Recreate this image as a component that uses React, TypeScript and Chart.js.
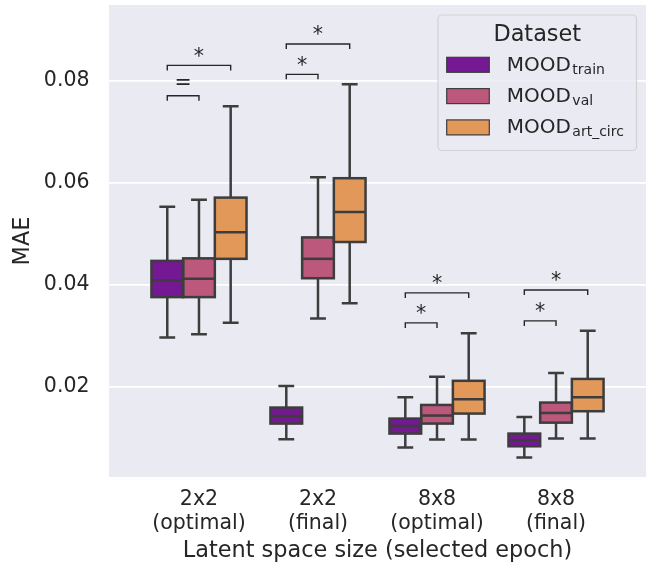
import React, { useEffect, useRef } from 'react';
import { Chart, registerables } from 'chart.js';

Chart.register(...registerables);

// ---------- data ----------
const categories: string[][] = [
  ['2x2', '(optimal)'],
  ['2x2', '(final)'],
  ['8x8', '(optimal)'],
  ['8x8', '(final)'],
];
const yTickValues = [0.02, 0.04, 0.06, 0.08];

const seriesBase = 'MOOD';
const seriesSubs = ['train', 'val', 'art_circ'];
const seriesColors = ['#741893', '#bb587c', '#e19858'];

// MOOD_train
const trainLow = [0.0297, 0.00975, 0.00812, 0.00616];
const trainQ1 = [0.0376, 0.01282, 0.01086, 0.00837];
const trainMedian = [0.0409, 0.01431, 0.01235, 0.00955];
const trainQ3 = [0.0447, 0.01596, 0.0138, 0.01086];
const trainHigh = [0.0553, 0.0202, 0.018, 0.01412];

// MOOD_val
const valLow = [0.0303, 0.0334, 0.00968, 0.00988];
const valQ1 = [0.0376, 0.0413, 0.01282, 0.013];
const valMedian = [0.0412, 0.0451, 0.01439, 0.0149];
const valQ3 = [0.0452, 0.0493, 0.01647, 0.01694];
const valHigh = [0.0567, 0.0611, 0.022, 0.02275];

// MOOD_art_circ
const artLow = [0.0326, 0.0364, 0.00968, 0.00988];
const artQ1 = [0.0451, 0.0484, 0.01478, 0.01524];
const artMedian = [0.0503, 0.0543, 0.01759, 0.018];
const artQ3 = [0.0571, 0.0609, 0.0212, 0.02157];
const artHigh = [0.075, 0.0793, 0.0305, 0.031];

// significance annotations
const annotCategory = [0, 0, 1, 1, 2, 2, 3, 3];
const annotFrom = [0, 0, 0, 0, 0, 0, 0, 0];
const annotTo = [1, 2, 1, 2, 1, 2, 1, 2];
const annotLevel = [0.07706, 0.083, 0.08125, 0.0872, 0.03255, 0.03843, 0.03294, 0.039];
const annotText = ['=', '*', '*', '*', '*', '*', '*', '*'];

const stats = [
  { low: trainLow, q1: trainQ1, med: trainMedian, q3: trainQ3, high: trainHigh },
  { low: valLow, q1: valQ1, med: valMedian, q3: valQ3, high: valHigh },
  { low: artLow, q1: artQ1, med: artMedian, q3: artQ3, high: artHigh },
];

const FONT = 'DejaVu Sans';
const TEXT = '#262626';
const LINE = '#3d3d3d';
const BG = '#eaeaf2';

const bgPlugin = {
  id: 'bgPlugin',
  beforeDraw(chart: any) {
    const { ctx, chartArea } = chart;
    ctx.save();
    ctx.fillStyle = BG;
    ctx.fillRect(chartArea.left, chartArea.top, chartArea.right - chartArea.left, chartArea.bottom - chartArea.top);
    ctx.restore();
  },
};

const boxPlugin = {
  id: 'boxPlugin',
  afterDatasetsDraw(chart: any) {
    const { ctx } = chart;
    const ys = chart.scales.y;
    ctx.save();
    ctx.strokeStyle = LINE;
    ctx.lineWidth = 2.5;
    ctx.lineCap = 'butt';
    chart.data.datasets.forEach((_: any, di: number) => {
      const meta = chart.getDatasetMeta(di);
      const st = stats[di];
      meta.data.forEach((el: any, i: number) => {
        const { x, width } = el.getProps(['x', 'width'], true);
        const pLow = ys.getPixelForValue(st.low[i]);
        const pQ1 = ys.getPixelForValue(st.q1[i]);
        const pMed = ys.getPixelForValue(st.med[i]);
        const pQ3 = ys.getPixelForValue(st.q3[i]);
        const pHigh = ys.getPixelForValue(st.high[i]);
        const half = width / 2;
        const cap = width / 4;
        ctx.beginPath();
        ctx.moveTo(x, pQ1);
        ctx.lineTo(x, pLow);
        ctx.moveTo(x, pQ3);
        ctx.lineTo(x, pHigh);
        ctx.moveTo(x - cap, pLow);
        ctx.lineTo(x + cap, pLow);
        ctx.moveTo(x - cap, pHigh);
        ctx.lineTo(x + cap, pHigh);
        ctx.stroke();
        ctx.strokeRect(x - half, pQ3, width, pQ1 - pQ3);
        ctx.beginPath();
        ctx.moveTo(x - half, pMed);
        ctx.lineTo(x + half, pMed);
        ctx.stroke();
      });
    });
    ctx.restore();

    // significance brackets
    ctx.save();
    ctx.strokeStyle = TEXT;
    ctx.fillStyle = TEXT;
    ctx.lineWidth = 1.4;
    ctx.font = `20.5px "${FONT}"`;
    ctx.textAlign = 'center';
    ctx.textBaseline = 'alphabetic';
    annotCategory.forEach((c, k) => {
      const e1 = chart.getDatasetMeta(annotFrom[k]).data[c];
      const e2 = chart.getDatasetMeta(annotTo[k]).data[c];
      const x1 = e1.x;
      const x2 = e2.x;
      const yb = ys.getPixelForValue(annotLevel[k]);
      ctx.beginPath();
      ctx.moveTo(x1, yb + 5);
      ctx.lineTo(x1, yb);
      ctx.lineTo(x2, yb);
      ctx.lineTo(x2, yb + 5);
      ctx.stroke();
      const m = ctx.measureText(annotText[k]);
      const target = yb - 13.5;
      const base = target - (m.actualBoundingBoxDescent - m.actualBoundingBoxAscent) / 2;
      ctx.fillText(annotText[k], (x1 + x2) / 2, base);
    });
    ctx.restore();
  },
};

const legendPlugin = {
  id: 'customLegend',
  afterDraw(chart: any) {
    const { ctx, chartArea } = chart;
    const boxRight = chartArea.right - 9.5;
    const boxW = 198.5;
    const boxL = boxRight - boxW;
    const boxT = chartArea.top + 10;
    const boxH = 135.5;
    ctx.save();
    ctx.beginPath();
    const r = 4;
    ctx.moveTo(boxL + r, boxT);
    ctx.lineTo(boxL + boxW - r, boxT);
    ctx.arcTo(boxL + boxW, boxT, boxL + boxW, boxT + r, r);
    ctx.lineTo(boxL + boxW, boxT + boxH - r);
    ctx.arcTo(boxL + boxW, boxT + boxH, boxL + boxW - r, boxT + boxH, r);
    ctx.lineTo(boxL + r, boxT + boxH);
    ctx.arcTo(boxL, boxT + boxH, boxL, boxT + boxH - r, r);
    ctx.lineTo(boxL, boxT + r);
    ctx.arcTo(boxL, boxT, boxL + r, boxT, r);
    ctx.closePath();
    ctx.fillStyle = 'rgba(234,234,242,0.8)';
    ctx.fill();
    ctx.strokeStyle = 'rgba(204,204,204,0.8)';
    ctx.lineWidth = 1.2;
    ctx.stroke();

    ctx.fillStyle = TEXT;
    ctx.textAlign = 'center';
    ctx.textBaseline = 'alphabetic';
    ctx.font = `22.4px "${FONT}"`;
    ctx.fillText('Dataset', boxL + boxW / 2, boxT + 25.7);

    seriesSubs.forEach((sub, i) => {
      const rowBase = boxT + 55.7 + i * 31.3;
      const px = boxL + 8.7;
      ctx.fillStyle = seriesColors[i];
      ctx.fillRect(px, rowBase - 13.4, 42.6, 15);
      ctx.strokeStyle = LINE;
      ctx.lineWidth = 1.2;
      ctx.strokeRect(px, rowBase - 13.4, 42.6, 15);
      ctx.fillStyle = TEXT;
      ctx.textAlign = 'left';
      ctx.font = `20px "${FONT}"`;
      const tx = boxL + 68.7;
      ctx.fillText(seriesBase, tx, rowBase);
      const w = ctx.measureText(seriesBase).width;
      ctx.font = `14px "${FONT}"`;
      ctx.fillText(sub, tx + w + 1.5, rowBase + 3);
    });
    ctx.restore();
  },
};

export default function App() {
  const canvasRef = useRef<HTMLCanvasElement | null>(null);

  useEffect(() => {
    document.body.style.margin = '0';
    const canvas = canvasRef.current;
    if (!canvas) return;
    Chart.defaults.font.family = FONT;

    const datasets = stats.map((st, di) => ({
      label: seriesBase + seriesSubs[di],
      data: categories.map((_, i) => ({ x: i, y: [st.q1[i], st.q3[i]] })),
      backgroundColor: seriesColors[di],
      borderWidth: 0,
      barThickness: 31.7,
    }));

    const chart = new Chart(canvas, {
      type: 'bar',
      data: { datasets: datasets as any },
      options: {
        responsive: false,
        animation: false,
        events: [],
        layout: { padding: { left: 0, top: 5, right: 3, bottom: 0 } },
        plugins: { legend: { display: false }, tooltip: { enabled: false } },
        scales: {
          x: {
            type: 'linear',
            min: -0.756,
            max: 3.756,
            offset: false,
            grid: { display: false, drawTicks: false },
            border: { display: false },
            afterBuildTicks: (s: any) => {
              s.ticks = categories.map((_, i) => ({ value: i }));
            },
            ticks: {
              callback: (v: any) => categories[v as number],
              font: { size: 20.5, family: FONT },
              color: TEXT,
              padding: 10,
              maxRotation: 0,
              autoSkip: false,
            },
            title: {
              display: true,
              text: 'Latent space size (selected epoch)',
              font: { size: 22.4, family: FONT },
              color: TEXT,
              padding: { top: 0, bottom: 8 },
            },
            afterFit: (s: any) => {
              s.height = 96;
              s.paddingLeft = 0;
              s.paddingRight = 0;
            },
          },
          y: {
            type: 'linear',
            min: 0.002353,
            max: 0.09484,
            grid: { color: '#ffffff', lineWidth: 1.8, drawTicks: false },
            border: { display: false },
            afterBuildTicks: (s: any) => {
              s.ticks = yTickValues.map((v) => ({ value: v }));
            },
            ticks: {
              callback: (v: any) => Number(v).toFixed(2),
              font: { size: 20.5, family: FONT },
              color: TEXT,
              padding: 19.5,
            },
            title: {
              display: true,
              text: 'MAE',
              font: { size: 22.4, family: FONT },
              color: TEXT,
              padding: { top: 10, bottom: 0 },
            },
            afterFit: (s: any) => {
              s.width = 109;
              s.paddingTop = 0;
              s.paddingBottom = 0;
            },
          },
        },
      } as any,
      plugins: [bgPlugin, boxPlugin, legendPlugin],
    });
    return () => chart.destroy();
  }, []);

  return (
    <div style={{ width: 649, height: 573 }}>
      <canvas ref={canvasRef} width={649} height={573} style={{ display: 'block' }} />
    </div>
  );
}
